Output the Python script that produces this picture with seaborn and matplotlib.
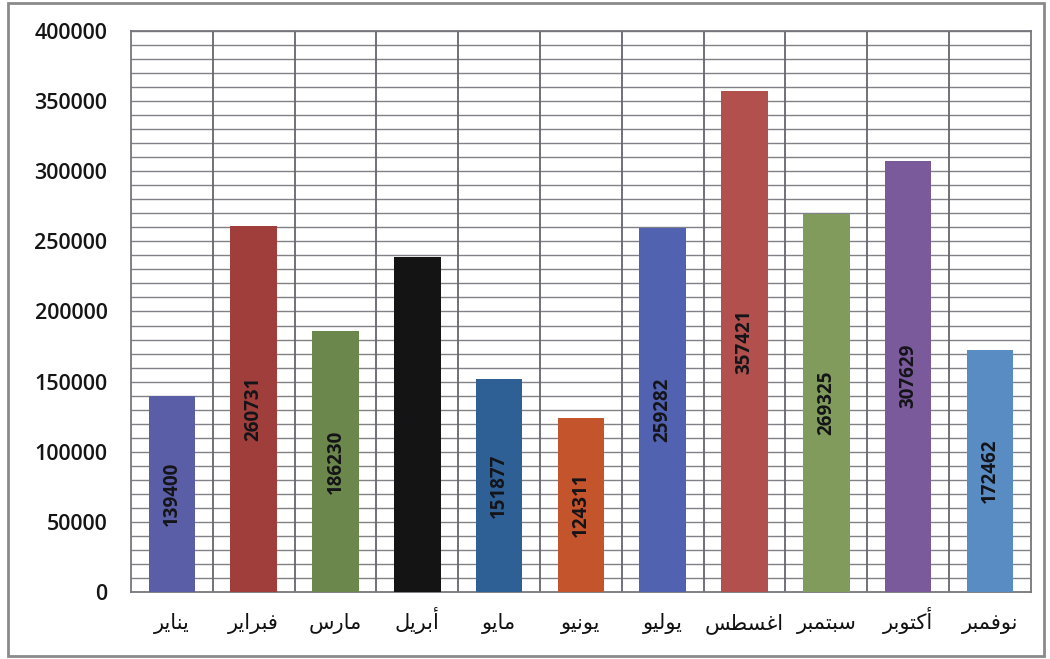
import matplotlib
matplotlib.use("Agg")
import matplotlib.pyplot as plt
from matplotlib.patches import Rectangle
import seaborn as sns
import pandas as pd

months = ["يناير", "فبراير", "مارس", "أبريل", "مايو", "يونيو",
          "يوليو", "اغسطس", "سبتمبر", "أكتوبر", "نوفمبر"]
values = [139400, 260731, 186230, 239000, 151877, 124311,
          259282, 357421, 269325, 307629, 172462]
colors = ["#5A5EA6", "#A03E3C", "#6B874B", "#141414", "#2E6096", "#C4542C",
          "#5062B0", "#B1504C", "#809B5C", "#7A5A9B", "#5A8CC4"]
y_ticks = [0, 50000, 100000, 150000, 200000, 250000, 300000, 350000, 400000]

# Minimal Arabic shaper (matplotlib does no shaping / bidi)
FORMS = {  # iso, fin, init, med (None => right-joining only)
    "ا": ("\uFE8D", "\uFE8E", None, None),
    "أ": ("\uFE83", "\uFE84", None, None),
    "ر": ("\uFEAD", "\uFEAE", None, None),
    "و": ("\uFEED", "\uFEEE", None, None),
    "ب": ("\uFE8F", "\uFE90", "\uFE91", "\uFE92"),
    "ت": ("\uFE95", "\uFE96", "\uFE97", "\uFE98"),
    "س": ("\uFEB1", "\uFEB2", "\uFEB3", "\uFEB4"),
    "ط": ("\uFEC1", "\uFEC2", "\uFEC3", "\uFEC4"),
    "غ": ("\uFECD", "\uFECE", "\uFECF", "\uFED0"),
    "ف": ("\uFED1", "\uFED2", "\uFED3", "\uFED4"),
    "ك": ("\uFED9", "\uFEDA", "\uFEDB", "\uFEDC"),
    "ل": ("\uFEDD", "\uFEDE", "\uFEDF", "\uFEE0"),
    "م": ("\uFEE1", "\uFEE2", "\uFEE3", "\uFEE4"),
    "ن": ("\uFEE5", "\uFEE6", "\uFEE7", "\uFEE8"),
    "ي": ("\uFEF1", "\uFEF2", "\uFEF3", "\uFEF4"),
}


def shape(word):
    out = []
    n = len(word)
    for i, ch in enumerate(word):
        f = FORMS.get(ch)
        if f is None:
            out.append(ch)
            continue
        dual = f[2] is not None
        prev_j = i > 0 and word[i - 1] in FORMS and FORMS[word[i - 1]][2] is not None
        next_j = dual and i < n - 1 and word[i + 1] in FORMS
        if prev_j and next_j:
            out.append(f[3])
        elif prev_j:
            out.append(f[1])
        elif next_j:
            out.append(f[2])
        else:
            out.append(f[0])
    return "".join(reversed(out))


df = pd.DataFrame({"month": months, "value": values})

sns.set_theme(style="white")
plt.rcParams["font.family"] = ["Open Sans", "DejaVu Sans"]

fig = plt.figure(figsize=(10.5, 6.59), dpi=100)
ax = fig.add_axes([0.1248, 0.1017, 0.857, 0.8513])

sns.barplot(data=df, x="month", y="value", hue="month", palette=colors,
            order=months, hue_order=months, width=0.57, legend=False,
            saturation=1, linewidth=0, edgecolor="none", ax=ax, zorder=3)

ax.set_ylim(0, 400000)
ax.set_xlim(-0.5, len(months) - 0.5)
ax.set_yticks(y_ticks)
ax.set_yticklabels([str(v) for v in y_ticks], fontsize=15.5,
                   fontweight="semibold", color="#151515")
ax.set_xticks(range(len(months)))
ax.set_xticklabels([shape(m) for m in months], fontsize=15,
                   family=["DejaVu Sans"], color="#111111", va="baseline")
ax.tick_params(axis="both", length=0)
ax.tick_params(axis="y", pad=17)
ax.tick_params(axis="x", pad=27)
ax.set_xlabel("")
ax.set_ylabel("")

# horizontal gridlines every 10000
for v in range(10000, 400001, 10000):
    ax.axhline(v, color="#808087", lw=1.0, zorder=1)
# vertical separators between categories
for i in range(len(months) - 1):
    ax.axvline(i + 0.5, color="#66666d", lw=1.3, zorder=1)

for s in ax.spines.values():
    s.set_color("#76767c")
    s.set_linewidth(1.3)

# value labels, rotated, centred in bars
for i, v in enumerate(values):
    ax.text(i, v / 2, str(v), rotation=90, ha="center", va="center",
            fontsize=13.5, fontweight="bold", color="#141418", zorder=4)

fig.patches.append(Rectangle((0.008, 0.004), 0.986, 0.992, transform=fig.transFigure,
                             fill=False, edgecolor="#8a8a8a", lw=2))

fig.savefig("out.png", dpi=100)
